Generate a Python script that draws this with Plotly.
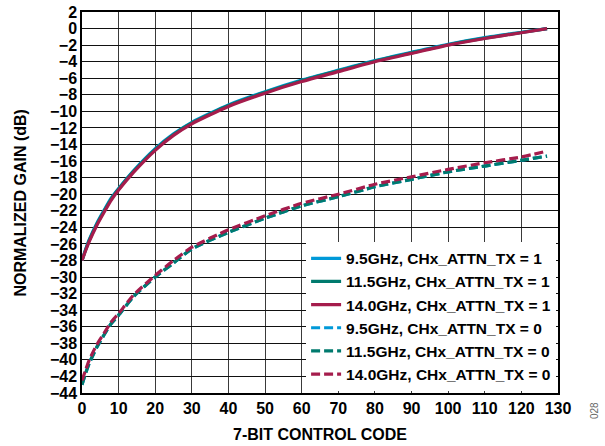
import plotly.graph_objects as go

# 7-bit control code sample points
codes = [0, 1, 2, 4, 6, 8, 10, 14, 20, 25, 30, 40, 50, 60, 70, 80, 90, 100, 110, 120, 127]

# CHx_ATTN_TX = 1 (solid)
gain_95_tx1 = [-28.0, -26.65, -25.45, -23.55, -21.95, -20.45, -19.3, -17.2, -14.5, -12.72, -11.32, -9.22, -7.62, -6.22, -5.02, -3.86, -2.86, -1.9, -1.1, -0.45, 0.0]
gain_115_tx1 = [-28.0, -26.7, -25.55, -23.65, -22.05, -20.55, -19.38, -17.28, -14.58, -12.8, -11.4, -9.3, -7.7, -6.3, -5.1, -3.92, -2.92, -1.95, -1.15, -0.48, 0.0]
gain_140_tx1 = [-28.0, -26.8, -25.7, -23.8, -22.2, -20.7, -19.5, -17.4, -14.7, -12.9, -11.5, -9.4, -7.8, -6.4, -5.2, -4.0, -3.0, -2.0, -1.2, -0.5, 0.0]

# CHx_ATTN_TX = 0 (dashed)
gain_95_tx0 = [-43.0, -41.6, -40.4, -38.5, -37.0, -35.6, -34.6, -32.4, -30.0, -28.3, -26.6, -24.6, -22.9, -21.4, -20.3, -19.1, -18.2, -17.3, -16.6, -15.9, -15.4]
gain_115_tx0 = [-43.0, -41.6, -40.4, -38.5, -37.0, -35.6, -34.6, -32.4, -30.0, -28.3, -26.6, -24.6, -22.9, -21.4, -20.3, -19.1, -18.2, -17.3, -16.6, -15.9, -15.4]
gain_140_tx0 = [-42.5, -41.2, -40.0, -38.2, -36.8, -35.4, -34.4, -32.2, -29.8, -28.0, -26.4, -24.3, -22.6, -21.1, -20.0, -18.8, -17.9, -17.0, -16.2, -15.5, -14.8]

x_ticks = list(range(0, 131, 10))
y_ticks = list(range(-44, 3, 2))

BLUE = "#0099D8"
TEAL = "#007A6E"
CRIMSON = "#A51C4C"

series = [
    ("9.5GHz, CHx_ATTN_TX = 1", gain_95_tx1, BLUE, "solid"),
    ("11.5GHz, CHx_ATTN_TX = 1", gain_115_tx1, TEAL, "solid"),
    ("14.0GHz, CHx_ATTN_TX = 1", gain_140_tx1, CRIMSON, "solid"),
    ("9.5GHz, CHx_ATTN_TX = 0", gain_95_tx0, BLUE, "9px,4px"),
    ("11.5GHz, CHx_ATTN_TX = 0", gain_115_tx0, TEAL, "9px,4px"),
    ("14.0GHz, CHx_ATTN_TX = 0", gain_140_tx0, CRIMSON, "9px,4px"),
]

fig = go.Figure()
for name, ys, color, dash in series:
    fig.add_trace(go.Scatter(
        x=codes, y=ys, name=name, mode="lines",
        line=dict(color=color, width=3.2, dash=dash, shape="spline", smoothing=0.6),
    ))

font_family = "Liberation Sans, Arial, sans-serif"
FS = 16

fig.update_layout(
    width=605, height=446,
    margin=dict(l=82, r=47, t=12, b=53),
    paper_bgcolor="white",
    plot_bgcolor="white",
    font=dict(family=font_family, size=FS, color="black"),
    showlegend=True,
    legend=dict(
        x=0.996, xanchor="right", y=0.006, yanchor="bottom",
        bgcolor="white", borderwidth=0,
        font=dict(family=font_family, size=15.5, color="black", weight="bold"),
        traceorder="normal",
        itemwidth=30,
        tracegroupgap=0,
    ),
)

fig.update_xaxes(
    range=[0, 130], tickvals=x_ticks, ticktext=[f"<b>{v}</b>" for v in x_ticks],
    showgrid=True, gridcolor="#3a3a3a", gridwidth=1,
    showline=True, linecolor="black", linewidth=1.5, mirror=True,
    ticks="", zeroline=False, automargin=False, ticklabeloverflow="allow",
    tickfont=dict(size=FS, family=font_family),
)
fig.update_yaxes(
    range=[-44, 2], tickvals=y_ticks, ticktext=[f"<b>{'−' if v < 0 else ''}{abs(v)}</b>" for v in y_ticks],
    showgrid=True, gridcolor="#111111", gridwidth=1,
    showline=True, linecolor="black", linewidth=1.5, mirror=True,
    ticks="", zeroline=False, automargin=False, ticklabeloverflow="allow",
    tickfont=dict(size=FS, family=font_family),
)

# axis titles
fig.add_annotation(
    text="<b>7-BIT CONTROL CODE</b>", xref="paper", yref="paper", x=0.5, y=-0.108,
    xanchor="center", yanchor="middle", showarrow=False,
    font=dict(size=FS, family=font_family, color="black"),
)
fig.add_annotation(
    text="<b>NORMALIZED GAIN (dB)</b>", xref="paper", yref="paper", x=-0.13, y=0.5,
    xanchor="center", yanchor="middle", textangle=-90, showarrow=False,
    font=dict(size=FS, family=font_family, color="black"),
)

fig.add_annotation(
    text="028", xref="paper", yref="paper", x=1.078, y=-0.047, xanchor="center", yanchor="middle",
    textangle=-90, showarrow=False, font=dict(size=10, color="#666666", family=font_family),
)

fig.write_html(
    "out.html",
    config={"displayModeBar": False},
    post_script="document.body.style.margin='0px';",
)
